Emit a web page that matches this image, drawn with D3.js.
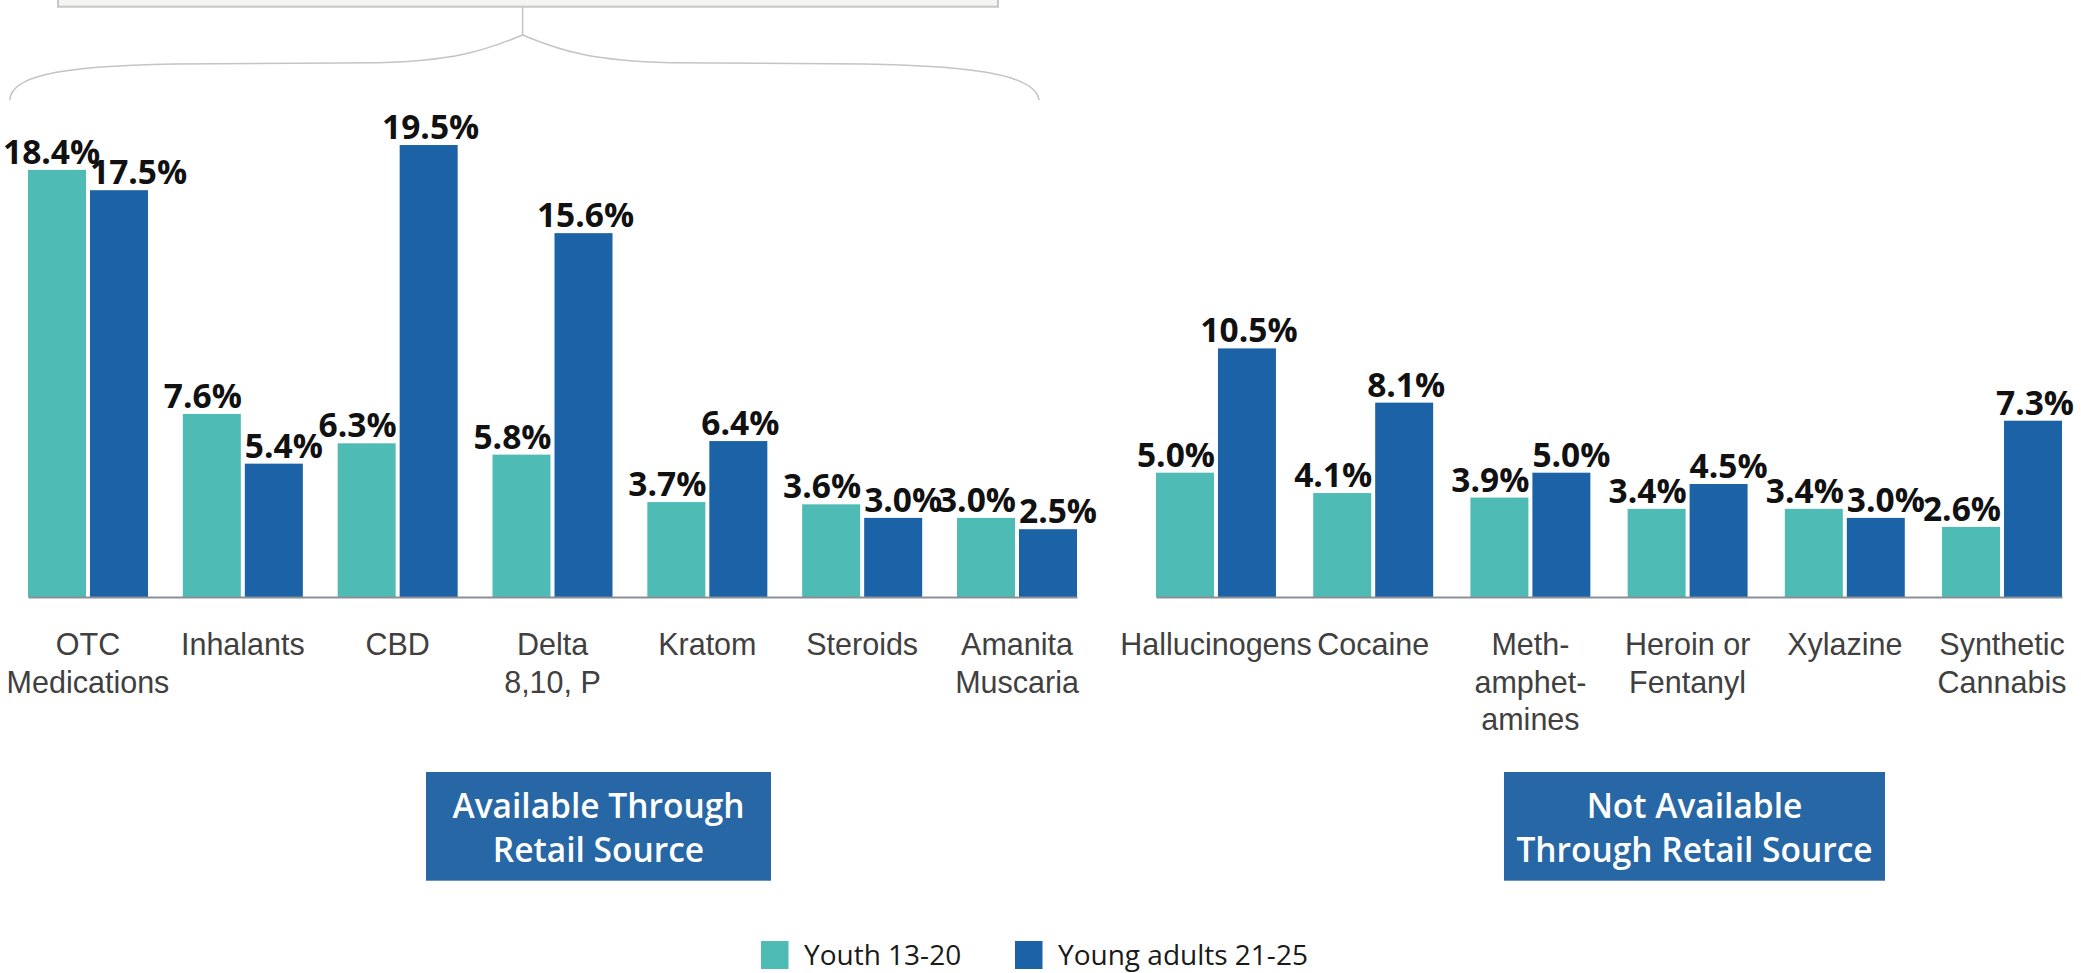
<!DOCTYPE html>
<html>
<head>
<meta charset="utf-8">
<script src="https://cdn.jsdelivr.net/npm/d3@7"></script>
<style>
  html, body { margin: 0; padding: 0; background: #ffffff; }
  svg { display: block; font-family: "Open Sans", sans-serif; }
</style>
</head>
<body>
<svg id="chart" width="2081" height="973"></svg>
<script>
// ---------------- DATA ----------------
const seriesNames = ["Youth 13-20", "Young adults 21-25"];

const categoriesLeft = ["OTC Medications", "Inhalants", "CBD", "Delta 8,10, P", "Kratom", "Steroids", "Amanita Muscaria"];
const youthLeft  = [18.4, 7.6, 6.3, 5.8, 3.7, 3.6, 3.0];
const adultsLeft = [17.5, 5.4, 19.5, 15.6, 6.4, 3.0, 2.5];
const tickLabelsLeft = [["OTC", "Medications"], ["Inhalants"], ["CBD"], ["Delta", "8,10, P"], ["Kratom"], ["Steroids"], ["Amanita", "Muscaria"]];

const categoriesRight = ["Hallucinogens", "Cocaine", "Methamphetamines", "Heroin or Fentanyl", "Xylazine", "Synthetic Cannabis"];
const youthRight  = [5.0, 4.1, 3.9, 3.4, 3.4, 2.6];
const adultsRight = [10.5, 8.1, 5.0, 4.5, 3.0, 7.3];
const tickLabelsRight = [["Hallucinogens"], ["Cocaine"], ["Meth-", "amphet-", "amines"], ["Heroin or", "Fentanyl"], ["Xylazine"], ["Synthetic", "Cannabis"]];

const groupTitles = [["Available Through", "Retail Source"], ["Not Available", "Through Retail Source"]];

// ---------------- STYLE / LAYOUT ----------------
const colors = ["#4fbbb5", "#1b63a6"];
const boxColor = "#2867a5";
const W = 2081, H = 973;
const baseY = 597;

const svg = d3.select("#chart");
svg.append("rect").attr("width", W).attr("height", H).attr("fill", "#fff");

const y = d3.scaleLinear().domain([-0.5, 20]).range([baseY, 133.7]);

const panels = [
  { cats: categoriesLeft, youth: youthLeft, adults: adultsLeft, ticks: tickLabelsLeft, range: [28, 1077], pad: 0.225,
    box: { x: 426, w: 345 }, title: groupTitles[0] },
  { cats: categoriesRight, youth: youthRight, adults: adultsRight, ticks: tickLabelsRight, range: [1156, 2062], pad: 0.237,
    box: { x: 1504, w: 381 }, title: groupTitles[1] }
];

// top grey box, connector and brace
svg.append("rect").attr("x", 58).attr("y", -20).attr("width", 940).attr("height", 26.7)
  .attr("fill", "#f4f4f3").attr("stroke", "#c6c6c6").attr("stroke-width", 2);
svg.append("line").attr("x1", 522.6).attr("x2", 522.6).attr("y1", 7).attr("y2", 35)
  .attr("stroke", "#c4c4c4").attr("stroke-width", 1.5);
svg.append("path")
  .attr("d", "M9.8,100 C11,78 50,66 175,64 L379,62.7 C450,61 482,52 522.6,35 C563,52 595,61 670,62.7 L863,64 C990,66 1036,78 1039,100")
  .attr("fill", "none").attr("stroke", "#c4c4c4").attr("stroke-width", 1.5);

const valueFont = 33.5;
const labelGap = 6;
const capH = 24;

function measure(text, size, weight) {
  const t = svg.append("text").attr("font-size", size).attr("font-weight", weight).text(text);
  const w = t.node().getComputedTextLength();
  t.remove();
  return w;
}

panels.forEach(p => {
  const x0 = d3.scaleBand().domain(p.cats).range(p.range).paddingInner(p.pad).paddingOuter(0);
  const x1 = d3.scaleBand().domain(seriesNames).range([0, x0.bandwidth()]).paddingInner(0.0645).paddingOuter(0);

  const g = svg.append("g");
  p.cats.forEach((c, i) => {
    const vals = [p.youth[i], p.adults[i]];
    const rects = vals.map((v, s) => {
      const xl = x0(c) + x1(seriesNames[s]);
      return { xl, xr: xl + x1.bandwidth(), top: y(v), v, s };
    });
    rects.forEach(r => {
      g.append("rect").attr("x", r.xl).attr("y", r.top).attr("width", x1.bandwidth())
        .attr("height", baseY - r.top).attr("fill", colors[r.s]);
    });
    // teal label: right-aligned to bar right edge, clamped in frame
    const t = rects[0];
    const tText = t.v.toFixed(1) + "%";
    const tw = measure(tText, valueFont, 700);
    let tStart = Math.max(3, t.xr + 1 - tw);
    const tBase = t.top - labelGap;
    g.append("text").attr("x", tStart).attr("y", tBase).attr("font-size", valueFont).attr("font-weight", 700)
      .attr("fill", "#111").text(tText);
    // blue label: centered unless it collides with teal bar or teal label
    const b = rects[1];
    const bText = b.v.toFixed(1) + "%";
    const bw = measure(bText, valueFont, 700);
    const bBase = b.top - labelGap;
    let bStart = (b.xl + b.xr) / 2 + 2 - bw / 2;
    const overlap = (a0, a1, c0, c1) => a0 < c1 && c0 < a1;
    const hitsBar = overlap(bStart, bStart + bw, t.xl, t.xr) && bBase + 1 > t.top;
    const hitsLabel = overlap(bStart, bStart + bw, tStart, tStart + tw) &&
                      overlap(bBase - capH, bBase + 1, tBase - capH, tBase + 1);
    if (hitsBar || hitsLabel) bStart = b.xl;
    g.append("text").attr("x", bStart).attr("y", bBase).attr("font-size", valueFont).attr("font-weight", 700)
      .attr("fill", "#111").text(bText);
  });

  // axis
  const axis = d3.axisBottom(x0).tickSize(0).tickSizeOuter(0).tickFormat("");
  const ag = svg.append("g").attr("transform", `translate(0,${baseY})`).call(axis);
  ag.select(".domain").attr("stroke", "#8a9098").attr("stroke-width", 2);
  ag.selectAll(".tick").each(function(d, i) {
    const tx = d3.select(this).append("text").attr("fill", "#404040").attr("font-size", 30.5)
      .attr("text-anchor", "middle").attr("y", 58);
    p.ticks[i].forEach((line, li) => {
      tx.append("tspan").attr("x", 0).attr("dy", li === 0 ? 0 : 37.5).text(line);
    });
  });

  // section box
  svg.append("rect").attr("x", p.box.x).attr("y", 772).attr("width", p.box.w).attr("height", 108.7).attr("fill", boxColor);
  const bt = svg.append("text").attr("text-anchor", "middle").attr("fill", "#fff")
    .attr("font-size", 33.5).attr("font-weight", 600);
  p.title.forEach((line, li) => {
    bt.append("tspan").attr("x", p.box.x + p.box.w / 2).attr("y", 817.5 + li * 44).text(line);
  });
});

// legend
const legendX = [761, 1015];
seriesNames.forEach((n, i) => {
  svg.append("rect").attr("x", legendX[i]).attr("y", 941).attr("width", 27.5).attr("height", 28).attr("fill", colors[i]);
  svg.append("text").attr("x", legendX[i] + 43).attr("y", 965).attr("font-size", 28).attr("fill", "#1a1a1a").text(n);
});
</script>
</body>
</html>
